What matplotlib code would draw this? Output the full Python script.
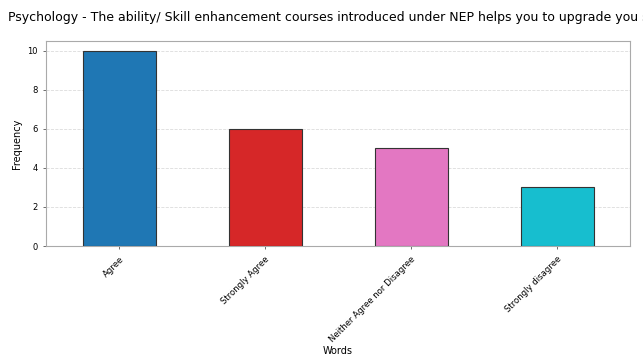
import matplotlib
matplotlib.use('Agg')
import matplotlib.pyplot as plt

words = ['Agree', 'Strongly Agree', 'Neither Agree nor Disagree', 'Strongly disagree']
freq = [10, 6, 5, 3]
colors = ['#1f77b4', '#d62728', '#e377c2', '#17becf']
title = ('Psychology - The ability/ Skill enhancement courses introduced under NEP '
         'helps you to upgrade you skills')

fig = plt.figure(figsize=(6.43, 3.58), dpi=100)
ax = fig.add_axes([46 / 643, 1 - 246 / 358, 584 / 643, 205 / 358])

x = range(len(words))
ax.bar(x, freq, width=0.5, color=colors, edgecolor='#333333', linewidth=0.8, zorder=3)
ax.set_xlim(-0.5, len(words) - 0.5)
ax.set_ylim(0, 10.5)
ax.set_yticks([0, 2, 4, 6, 8, 10])
ax.set_xticks(list(x))
ax.set_xticklabels(words, rotation=45, ha='right', rotation_mode='anchor', fontsize=6.1)
ax.tick_params(axis='y', labelsize=6)
ax.tick_params(length=2.5, width=0.6, color='#555555')
ax.yaxis.grid(True, linestyle='--', color='#cccccc', alpha=0.7, linewidth=0.6)
ax.set_axisbelow(True)
for s in ax.spines.values():
    s.set_color('#aaaaaa')
    s.set_linewidth(0.8)

ax.set_ylabel('Frequency', fontsize=7)
ax.set_xlabel('Words', fontsize=7)
ax.xaxis.set_label_coords(0.5, -0.49)
fig.text(8 / 643, 1 - 17 / 358, title, fontsize=9, va='center', ha='left')

fig.savefig('out.png', dpi=100)
